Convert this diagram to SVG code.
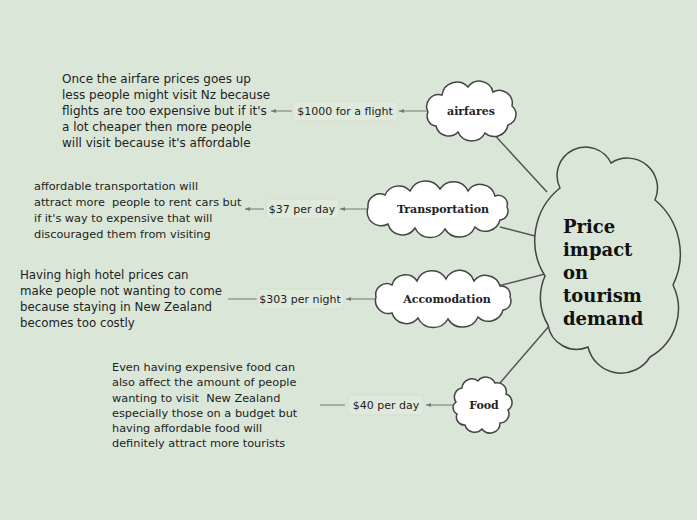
<svg xmlns="http://www.w3.org/2000/svg" width="697" height="520" viewBox="0 0 697 520">
<style>
.cloud{stroke:#444;stroke-width:1.5;fill:#fff}
.main{fill:#dae7d8}
.lbl{font-family:"DejaVu Serif",serif;font-weight:bold;font-size:11px;fill:#222;text-anchor:middle}
.ctr{font-family:"DejaVu Serif",serif;font-weight:bold;font-size:18px;fill:#111}
.body{font-family:"DejaVu Sans","Liberation Sans",sans-serif;fill:#222}
.b1{font-size:12px}
.b2{font-size:11.3px}
.b4{font-size:11.8px}
.b3{font-size:11.3px}
.price{font-family:"DejaVu Sans","Liberation Sans",sans-serif;font-size:11px;fill:#222;text-anchor:middle}
.pbox{fill:#dfeadc;stroke:#d0ddcd;stroke-width:0.8}
.con{stroke:#555;stroke-width:1.5;fill:none}
.thin{stroke:#777;stroke-width:1;fill:none}
</style>
<defs>
<marker id="ah" markerWidth="6" markerHeight="6" refX="5" refY="3" orient="auto" markerUnits="userSpaceOnUse">
<path d="M5,3 L0,1 L0,5 Z" fill="#777"/>
</marker>
</defs>
<rect width="697" height="520" fill="#dae7d8"/>

<g id="connectors">
<line class="con" x1="490" y1="130" x2="547" y2="192"/>
<line class="con" x1="500" y1="227" x2="535" y2="236"/>
<line class="con" x1="490" y1="288" x2="545" y2="274"/>
<line class="con" x1="500" y1="383" x2="550" y2="325"/>
<path class="thin" d="M428,111 H399" marker-end="url(#ah)"/>
<path class="thin" d="M292,111 H271" marker-end="url(#ah)"/>
<path class="thin" d="M367,209 H340" marker-end="url(#ah)"/>
<path class="thin" d="M264,209 H245" marker-end="url(#ah)"/>
<path class="thin" d="M375,299 H346" marker-end="url(#ah)"/>
<path class="thin" d="M257,299 H228"/>
<path class="thin" d="M455,405 H426" marker-end="url(#ah)"/>
<path class="thin" d="M345,405 H320"/>
</g>

<g id="main">
<path class="cloud main" d="M560,188 A28,28 0 0 1 611,163 A30,30 0 0 1 655,200 A70,70 0 0 1 673,285 A55,55 0 0 1 650,357 A34,34 0 0 1 588,347 A29,29 0 0 1 548,325 A53,53 0 0 1 545,276 A67,67 0 0 1 560,188 Z"/>
<text class="ctr" x="563" y="233">Price</text>
<text class="ctr" x="563" y="256">impact</text>
<text class="ctr" x="563" y="279">on</text>
<text class="ctr" x="563" y="302">tourism</text>
<text class="ctr" x="563" y="325">demand</text>
</g>

<g id="airfares">
<path class="cloud" d="M428,112 A12,12 0 0 1 442,95 A15,15 0 0 1 468,87 A14,14 0 0 1 493,92 A13,13 0 0 1 512,106 A11,11 0 0 1 508,125 A14,14 0 0 1 485,133 A15,15 0 0 1 458,132 A13,13 0 0 1 436,126 A10,10 0 0 1 428,112 Z"/>
<text class="lbl" x="471" y="115">airfares</text>
</g>

<g id="transportation">
<path class="cloud" d="M368,207 A12,12 0 0 1 385,195 A15,15 0 0 1 410,191 A17,17 0 0 1 440,189 A16,16 0 0 1 468,191 A15,15 0 0 1 495,196 A9,9 0 0 1 507,207 A9,9 0 0 1 500,220 A15,15 0 0 1 475,227 A17,17 0 0 1 445,229 A17,17 0 0 1 415,228 A15,15 0 0 1 388,224 A14,14 0 0 1 368,207 Z"/>
<text class="lbl" x="443" y="213">Transportation</text>
</g>

<g id="accomodation">
<path class="cloud" d="M376,297 A11,11 0 0 1 392,285 A14,14 0 0 1 417,281 A16,16 0 0 1 446,279 A15,15 0 0 1 474,281 A15,15 0 0 1 500,286 A9,9 0 0 1 510,297 A9,9 0 0 1 503,310 A15,15 0 0 1 478,317 A17,17 0 0 1 448,319 A17,17 0 0 1 418,318 A15,15 0 0 1 392,313 A13,13 0 0 1 376,297 Z"/>
<text class="lbl" x="447" y="303">Accomodation</text>
</g>

<g id="food">
<path class="cloud" d="M456,402 A9,9 0 0 1 462,388 A10,10 0 0 1 478,381 A10,10 0 0 1 495,383 A9,9 0 0 1 506,394 A9,9 0 0 1 508,410 A9,9 0 0 1 500,423 A10,10 0 0 1 482,429 A10,10 0 0 1 465,425 A8,8 0 0 1 457,414 A7,7 0 0 1 456,402 Z"/>
<text class="lbl" x="484" y="409">Food</text>
</g>

<g id="price-airfares">
<rect class="pbox" x="292" y="101" width="106" height="20" rx="4"/>
<text class="price" x="345" y="115">$1000 for a flight</text>
</g>
<g id="price-transportation">
<rect class="pbox" x="266" y="199" width="73" height="20" rx="4"/>
<text class="price" x="302" y="213">$37 per day</text>
</g>
<g id="price-accomodation">
<rect class="pbox" x="257" y="289" width="87" height="20" rx="4"/>
<text class="price" x="300" y="303">$303 per night</text>
</g>
<g id="price-food">
<rect class="pbox" x="348" y="395" width="76" height="20" rx="4"/>
<text class="price" x="386" y="409">$40 per day</text>
</g>

<g id="text-airfares" class="body b1">
<text x="62" y="83">Once the airfare prices goes up</text>
<text x="62" y="99">less people might visit Nz because</text>
<text x="62" y="115">flights are too expensive but if it's</text>
<text x="62" y="131">a lot cheaper then more people</text>
<text x="62" y="147">will visit because it's affordable</text>
</g>
<g id="text-transportation" class="body b2">
<text x="34" y="190">affordable transportation will</text>
<text x="34" y="206" xml:space="preserve">attract more  people to rent cars but</text>
<text x="34" y="222">if it's way to expensive that will</text>
<text x="34" y="238">discouraged them from visiting</text>
</g>
<g id="text-accomodation" class="body b4">
<text x="20" y="279">Having high hotel prices can</text>
<text x="20" y="295">make people not wanting to come</text>
<text x="20" y="311">because staying in New Zealand</text>
<text x="20" y="327">becomes too costly</text>
</g>
<g id="text-food" class="body b3">
<text x="112" y="371">Even having expensive food can</text>
<text x="112" y="386">also affect the amount of people</text>
<text x="112" y="402" xml:space="preserve">wanting to visit  New Zealand</text>
<text x="112" y="417">especially those on a budget but</text>
<text x="112" y="432">having affordable food will</text>
<text x="112" y="447">definitely attract more tourists</text>
</g>
</svg>
